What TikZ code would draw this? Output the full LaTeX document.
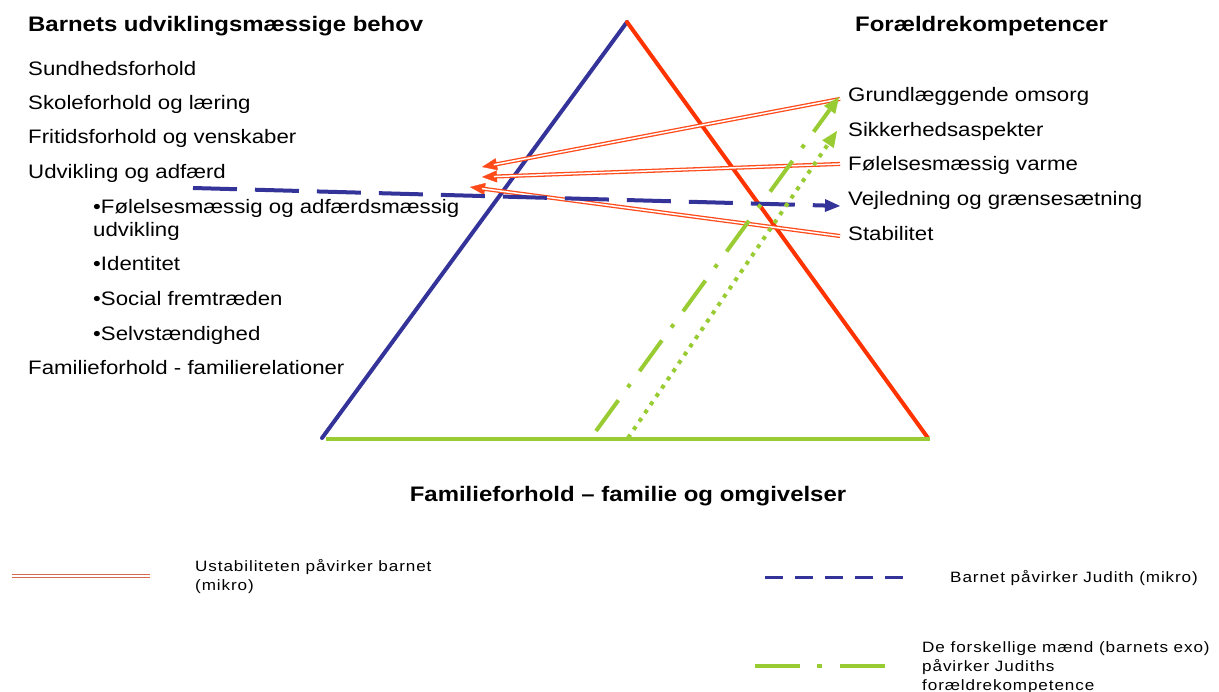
\documentclass[tikz,border=0pt]{standalone}
\usepackage{fontspec}
\setmainfont{Liberation Sans}[FakeStretch=1.14]
\newfontfamily\legfont{Liberation Sans}[FakeStretch=1.14,LetterSpace=6]
\usetikzlibrary{arrows.meta}
\definecolor{tblue}{HTML}{333399}
\definecolor{tred}{HTML}{FF3300}
\definecolor{tgreen}{HTML}{99CC33}
\definecolor{dred}{HTML}{FF4A1A}
\definecolor{lred}{HTML}{D46A4E}
\begin{document}
\begin{tikzpicture}[x=1pt,y=-1pt,
  head/.style={font=\fontsize{21}{25}\selectfont\bfseries, anchor=base west, inner sep=0},
  item/.style={font=\fontsize{19.5}{23}\selectfont, anchor=base west, inner sep=0},
  leg/.style={font=\legfont\fontsize{15}{18.7}\selectfont, anchor=base west, inner sep=0, align=left},
  side/.style={line width=4pt, line cap=round},
  dbl/.style={draw=dred, line width=1.3pt, double=white, double distance=1.5pt, shorten >=12pt},
  redtip/.style={draw=dred, line width=0.3pt, -{Triangle[length=15pt,width=12pt]}},
  bluedash/.style={draw=tblue, line width=4pt, dash pattern=on 44pt off 18pt, -{Triangle[length=15pt,width=13pt,line width=0pt]}},
  dashdot/.style={draw=tgreen, line width=4pt, dash pattern=on 38pt off 16pt on 4pt off 16pt, -{Triangle[length=16pt,width=14pt,line width=0pt]}},
  dotline/.style={draw=tgreen, line width=4pt, dash pattern=on 4pt off 6pt, -{Triangle[length=16pt,width=14pt,line width=0pt]}}
]
\useasboundingbox[fill=white] (0,0) rectangle (1219,692);

% triangle
\coordinate (apex) at (627,22);
\coordinate (bl) at (322,438);
\coordinate (br) at (928,438);
\coordinate (gl) at (326,439);
\coordinate (gr) at (930,439);
\draw[side, tblue] (apex) -- (bl);
\draw[side, tred] (apex) -- (br);
\draw[line width=4pt, tgreen] (gl) -- (gr);

% headings
\node[head] (hl) at (28,32) {Barnets udviklingsmæssige behov};
\node[head] (hr) at (855,32) {Forældrekompetencer};
\node[head, anchor=base] (hb) at (628,502) {Familieforhold – familie og omgivelser};

% left list
\node[item] (l1) at (28,76) {Sundhedsforhold};
\node[item] (l2) at (28,110) {Skoleforhold og læring};
\node[item] (l3) at (28,144) {Fritidsforhold og venskaber};
\node[item] (l4) at (28,179) {Udvikling og adfærd};
\node[item] (l5) at (93,214) {•Følelsesmæssig og adfærdsmæssig};
\node[item] (l5b) at (93,237) {udvikling};
\node[item] (l6) at (93,271) {•Identitet};
\node[item] (l7) at (93,306) {•Social fremtræden};
\node[item] (l8) at (93,341) {•Selvstændighed};
\node[item] (l9) at (28,375) {Familieforhold - familierelationer};

% right list
\node[item] (grund) at (848,102) {Grundlæggende omsorg};
\node[item] (sikker) at (848,137) {Sikkerhedsaspekter};
\node[item] (varme) at (848,171) {Følelsesmæssig varme};
\node[item] (vejl) at (848,206) {Vejledning og grænsesætning};
\node[item] (stab) at (848,241) {Stabilitet};

% red double arrows
\coordinate (tipA) at (482,167);
\coordinate (tipB) at (482,177);
\coordinate (tipC) at (470,187);
\draw[redtip] ([xshift=-8pt,yshift=-2pt]grund.west) -- (tipA);
\draw[dbl] ([xshift=-8pt,yshift=-2pt]grund.west) -- (tipA);
\draw[redtip] ([xshift=-8pt,yshift=2pt]varme.west) -- (tipB);
\draw[dbl] ([xshift=-8pt,yshift=2pt]varme.west) -- (tipB);
\draw[redtip] ([xshift=-8pt,yshift=-2pt]stab.west) -- (tipC);
\draw[dbl] ([xshift=-8pt,yshift=-2pt]stab.west) -- (tipC);

% blue dashed arrow
\coordinate (bstart) at (193,188);
\draw[bluedash] (bstart) -- ([xshift=-8pt,yshift=-5pt]vejl.west);

% green arrows
\coordinate (g1) at (596,431);
\coordinate (g2) at (628,438);
\draw[dashdot] (g1) -- ([xshift=-9pt,yshift=0pt]grund.west);
\draw[dotline] (g2) -- ([xshift=-11pt,yshift=1pt]sikker.west);

% legend
\coordinate (r1) at (12,576);
\coordinate (r2) at (150,576);
\draw[draw=lred, line width=1.3pt, double=white, double distance=1.5pt] (r1) -- (r2);
\node[leg] (t1) at (195,590) {Ustabiliteten påvirker barnet\\(mikro)};

\coordinate (b1) at (765,577);
\coordinate (b2) at (903,577);
\draw[draw=tblue, line width=3pt, dash pattern=on 18pt off 12pt] (b1) -- (b2);
\node[leg] (t2) at (950,582) {Barnet påvirker Judith (mikro)};

\coordinate (e1) at (755,666);
\coordinate (e2) at (885,666);
\draw[draw=tgreen, line width=4pt, dash pattern=on 45pt off 17pt on 5pt off 18pt] (e1) -- (e2);
\node[leg] (t3) at (922,690) {De forskellige mænd (barnets exo)\\påvirker Judiths\\forældrekompetence};
\end{tikzpicture}
\end{document}
